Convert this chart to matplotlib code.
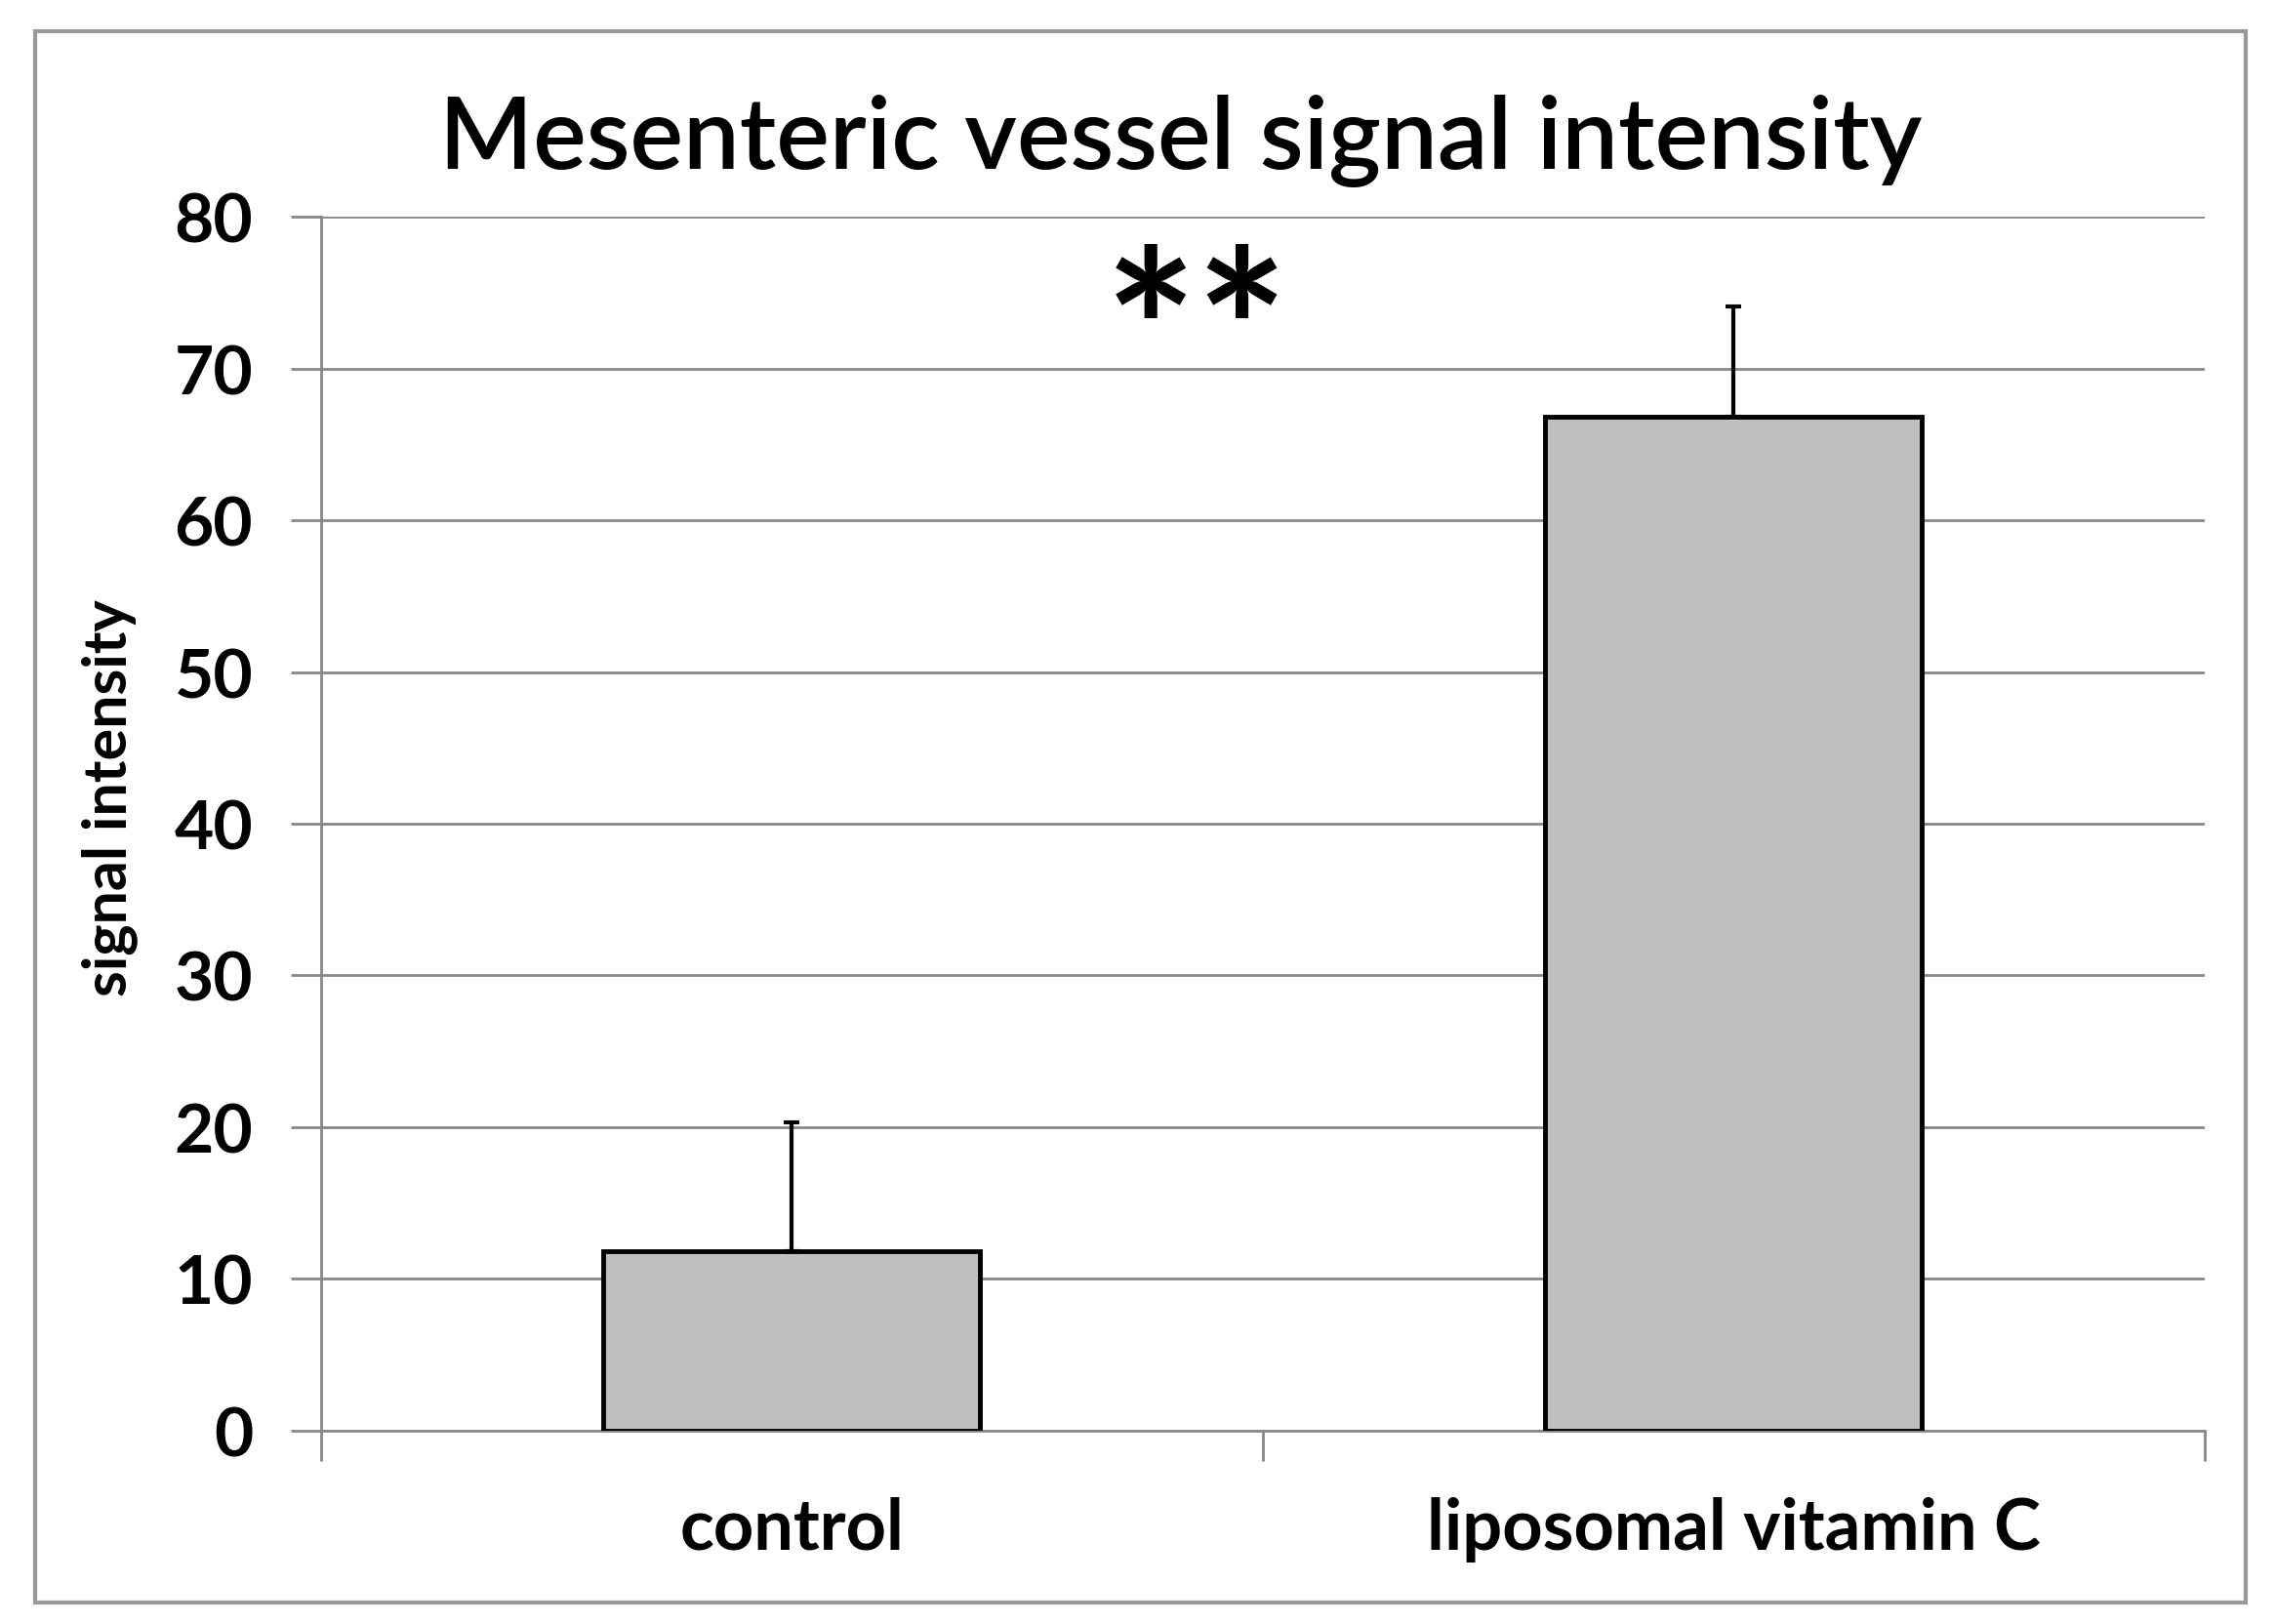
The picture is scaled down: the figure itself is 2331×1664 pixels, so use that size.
import matplotlib
matplotlib.use("Agg")
import matplotlib.pyplot as plt
from matplotlib.patches import Rectangle

# data
categories = ["control", "liposomal vitamin C"]
means = [11.8, 66.8]
errors = [8.5, 7.3]
y_ticks = [0, 10, 20, 30, 40, 50, 60, 70, 80]

plt.rcParams['font.family'] = ['Lato', 'DejaVu Sans']

fig = plt.figure(figsize=(23.31, 16.65), dpi=100)
ax = fig.add_axes([0.141, 0.119, 0.828, 0.747])

x = list(range(len(categories)))
ax.bar(x, means, width=0.4, color='#bfbfbf', edgecolor='black', linewidth=3.5, zorder=3)
ax.errorbar(x, means, yerr=[[0, 0], errors], fmt='none', ecolor='black',
            elinewidth=3, capsize=6, capthick=3, zorder=4)

ax.set_xlim(-0.5, 1.5)
ax.set_ylim(0, 80)
ax.set_yticks(y_ticks)
ax.set_yticklabels([str(t) for t in y_ticks], fontsize=50, fontweight='bold')
ax.set_xticks(x)
ax.set_xticklabels(categories, fontsize=52, fontweight='bold')
ax.set_xticks([-0.5, 0.5, 1.5], minor=True)

ax.tick_params(axis='y', length=22, width=2, color='#888888', pad=28)
ax.tick_params(axis='x', which='major', length=0, pad=48)
ax.tick_params(axis='x', which='minor', length=22, width=2, color='#888888')

ax.grid(axis='y', color='#888888', linewidth=2, zorder=0)
for s in ['top', 'right']:
    ax.spines[s].set_visible(False)
for s in ['left', 'bottom']:
    ax.spines[s].set_color('#888888')
    ax.spines[s].set_linewidth(2)

ax.text(0.43, 71.5, "**", fontsize=160, fontweight='bold', ha='center', va='center')

fig.text(0.519, 0.913, "Mesenteric vessel signal intensity", fontsize=74,
         fontweight='semibold', ha='center', va='center')
fig.text(0.048, 0.509, "signal intensity", fontsize=44, fontweight='bold',
         rotation=90, ha='center', va='center')

# outer frame
fig.patches.append(Rectangle((0.0154, 0.013), 0.9716, 0.967, transform=fig.transFigure,
                             fill=False, edgecolor='#999999', linewidth=3))

fig.savefig("out.png", dpi=100)
